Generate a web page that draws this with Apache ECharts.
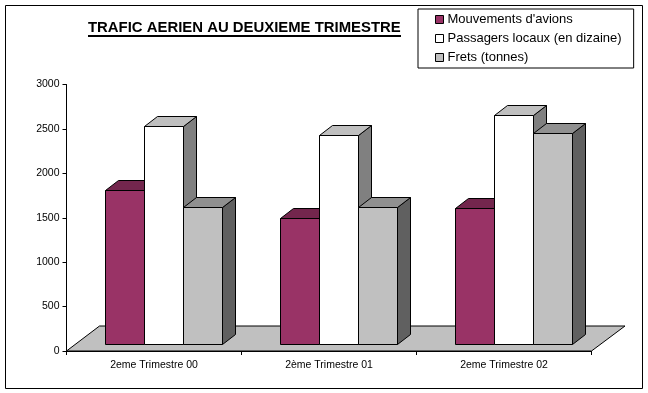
<!DOCTYPE html>
<html><head><meta charset="utf-8">
<style>html,body{margin:0;padding:0;background:#fff}#c{width:648px;height:393px}</style>
<script src="https://cdn.jsdelivr.net/npm/echarts@6/dist/echarts.min.js"></script>
</head><body><div id="c"></div>
<script>
const categories = ['2eme Trimestre 00', '2ème Trimestre 01', '2eme Trimestre 02'];
const mouvements = [1733, 1417, 1530];
const passagers = [2450, 2351, 2576];
const frets = [1541, 1541, 2373];
const yTicks = {min: 0, max: 3000, interval: 500};
const FONT = '"Liberation Sans", Arial, sans-serif';

const chart = echarts.init(document.getElementById('c'), null, {renderer: 'canvas'});
const snap = v => Math.round(v - 0.5) + 0.5;

function barSeries(name, values, slot, front, top, side) {
  return {
    name, type: 'custom', coordinateSystem: 'cartesian2d', z: 3 + slot,
    itemStyle: {color: front, borderColor: '#000', borderWidth: 1},
    data: values.map((v, i) => [i, v]),
    renderItem(params, api) {
      const base = api.coord([api.value(0), 0]);
      const tip = api.coord([api.value(0), api.value(1)]);
      const w = api.size([1, 0])[0] * 39 / 175;
      const x0 = snap(base[0] + 10 + (slot - 1.5) * w);
      const x1 = snap(x0 + w);
      const y0 = snap(base[1] - 7);
      const y1 = snap(tip[1] - 7);
      const dx = 13, dy = 10;
      const line = {stroke: '#000', lineWidth: 1};
      return {type: 'group', children: [
        {type: 'polygon', shape: {points: [[x1, y0], [x1 + dx, y0 - dy], [x1 + dx, y1 - dy], [x1, y1]]}, style: {fill: side, ...line}},
        {type: 'polygon', shape: {points: [[x0, y1], [x0 + dx, y1 - dy], [x1 + dx, y1 - dy], [x1, y1]]}, style: {fill: top, ...line}},
        {type: 'rect', shape: {x: x0, y: y1, width: x1 - x0, height: y0 - y1}, style: {fill: front, ...line}}
      ]};
    }
  };
}

chart.setOption({
  animation: false,
  backgroundColor: '#fff',
  textStyle: {fontFamily: FONT},
  title: {
    text: 'TRAFIC AERIEN AU DEUXIEME TRIMESTRE', left: 88, top: 20, padding: 0,
    textStyle: {fontFamily: FONT, fontSize: 14.9, fontWeight: 'bold', color: '#000'}
  },
  legend: {
    left: 418, top: 9, orient: 'vertical', itemWidth: 8, itemHeight: 8, itemGap: 6,
    padding: [4, 12, 4, 17], borderColor: '#000', borderWidth: 1, backgroundColor: '#fff',
    icon: 'rect', selectedMode: false,
    data: ['Mouvements d\'avions', 'Passagers locaux (en dizaine)', 'Frets (tonnes)'],
    itemStyle: {borderColor: '#000', borderWidth: 1},
    textStyle: {fontFamily: FONT, fontSize: 13, color: '#000', padding: [0, 0, 0, -1]}
  },
  grid: {left: 66.5, top: 84.5, width: 525, height: 266.5, containLabel: false},
  xAxis: {
    type: 'category', data: categories, boundaryGap: true,
    axisLine: {lineStyle: {color: '#000', width: 1}},
    axisTick: {show: true, length: 4, alignWithLabel: false, lineStyle: {color: '#000'}},
    axisLabel: {color: '#000', fontFamily: FONT, fontSize: 10.5, margin: 9, interval: 0},
    splitLine: {show: false}
  },
  yAxis: {
    type: 'value', min: yTicks.min, max: yTicks.max, interval: yTicks.interval,
    axisLine: {show: true, lineStyle: {color: '#000', width: 1}},
    axisTick: {show: true, length: 4, lineStyle: {color: '#000'}},
    axisLabel: {color: '#000', fontFamily: FONT, fontSize: 10.5, margin: 7, formatter: v => String(v)},
    splitLine: {show: false}
  },
  series: [
    {
      type: 'custom', coordinateSystem: 'cartesian2d', z: 2, silent: true,
      data: [[0, 0]],
      renderItem(params, api) {
        const s = api.size([1, 0])[0];
        const c0 = api.coord([0, 0]);
        const c2 = api.coord([categories.length - 1, 0]);
        const l = c0[0] - s / 2, r = c2[0] + s / 2, y = c0[1];
        return {type: 'polygon', shape: {points: [[l, y], [l + 33, y - 25], [r + 33.5, y - 25], [r, y]]},
          style: {fill: '#C0C0C0', stroke: '#000', lineWidth: 1}};
      }
    },
    barSeries('Mouvements d\'avions', mouvements, 0, '#993366', '#73264D', '#73264D'),
    barSeries('Passagers locaux (en dizaine)', passagers, 1, '#FFFFFF', '#BFBFBF', '#808080'),
    barSeries('Frets (tonnes)', frets, 2, '#C0C0C0', '#909090', '#606060')
  ],
  graphic: [
    {type: 'rect', z: -1, shape: {x: 5.5, y: 5.5, width: 637, height: 383}, style: {fill: '#fff', stroke: '#000', lineWidth: 1}},
    {type: 'line', z: 10, shape: {x1: 88, y1: 36, x2: 401, y2: 36}, style: {stroke: '#000', lineWidth: 2}}
  ]
});
</script></body></html>
